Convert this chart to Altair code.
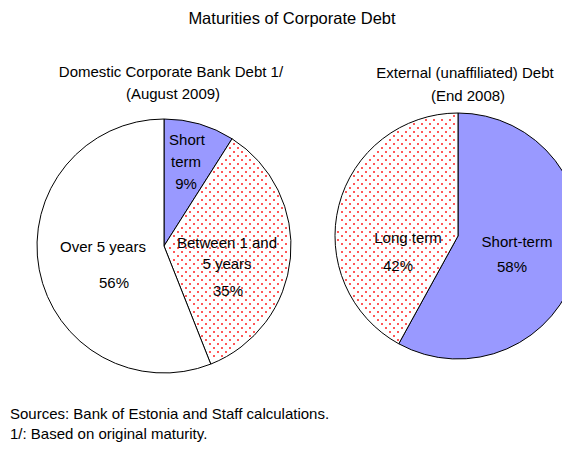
import altair as alt
import numpy as np
import pandas as pd

# ---------------- data ----------------
title = "Maturities of Corporate Debt"
left_title = ["Domestic Corporate Bank Debt 1/", "(August 2009)"]
right_title = ["External (unaffiliated) Debt", "(End 2008)"]

left_cats = ["Short term", "Between 1 and 5 years", "Over 5 years"]
left_vals = [9, 35, 56]
right_cats = ["Short-term", "Long term"]
right_vals = [58, 42]

notes = ["Sources: Bank of Estonia and Staff calculations.",
         "1/: Based on original maturity."]

# ---------------- layout ----------------
W, H = 554, 434
FONT = "Liberation Sans"
OFF = 8  # page margin
L_CX, L_CY, L_R = 164 - OFF, 246 - OFF, 127
R_CX, R_CY, R_R = 458 - OFF, 236 - OFF, 123
BLUE = "#9999FF"

all_cats = left_cats + right_cats
color_scale = alt.Scale(domain=all_cats,
                        range=[BLUE, "#FFFFFF", "#FFFFFF", BLUE, "#FFFFFF"])


def pie_df(cats, vals):
    return pd.DataFrame({"cat": cats, "value": vals, "order": list(range(len(cats)))})


def pie(cats, vals, cx, cy, r):
    return alt.Chart(pie_df(cats, vals)).mark_arc(
        radius=r, stroke="black", strokeWidth=1
    ).encode(
        theta=alt.Theta("value:Q", stack=True),
        order=alt.Order("order:Q"),
        color=alt.Color("cat:N", scale=color_scale, legend=None),
        x=alt.value(cx), y=alt.value(cy),
    )


def wedge_dots(vals, idx, cx, cy, r):
    """Dot texture filling wedge idx of a pie (stacked from 12 o'clock, clockwise)."""
    total = float(sum(vals))
    a0 = 2 * np.pi * sum(vals[:idx]) / total
    a1 = 2 * np.pi * sum(vals[:idx + 1]) / total
    pts = []
    for row, yy in enumerate(np.arange(0, H, 4.0)):
        start = 2.0 if row % 2 == 0 else 6.0
        for xx in np.arange(start, W, 8.0):
            dx, dy = xx - cx, yy - cy
            d = np.hypot(dx, dy)
            if d > r - 2.5 or d < 2:
                continue
            ang = np.arctan2(dx, -dy) % (2 * np.pi)
            m = 2.0 / d
            if a0 + m < ang < a1 - m:
                pts.append((xx, yy))
    return pd.DataFrame(pts, columns=["px", "py"])


dots = pd.concat([
    wedge_dots(left_vals, 1, L_CX, L_CY, L_R),
    wedge_dots(right_vals, 1, R_CX, R_CY, R_R),
])

dot_layer = alt.Chart(dots).mark_square(size=4, color="#FF2020", opacity=0.75).encode(
    x=alt.X("px:Q", scale=alt.Scale(domain=[0, W], range=[0, W]), axis=None),
    y=alt.Y("py:Q", scale=alt.Scale(domain=[0, H], range=[0, H]), axis=None),
)


def label(text, x, y, size=15, align="center"):
    return alt.Chart(pd.DataFrame({"t": [text]})).mark_text(
        font=FONT, fontSize=size, align=align, baseline="middle", color="black"
    ).encode(text="t:N", x=alt.value(x - OFF), y=alt.value(y - OFF))


layers = [
    pie(left_cats, left_vals, L_CX, L_CY, L_R),
    pie(right_cats, right_vals, R_CX, R_CY, R_R),
    dot_layer,
    label(title, 292, 19, size=16.5),
    label(left_title[0], 171, 72),
    label(left_title[1], 173, 94),
    label(right_title[0], 465, 73),
    label(right_title[1], 468, 96),
    # left pie labels
    label("Short", 187, 140),
    label("term", 186, 162),
    label(f"{left_vals[0]}%", 186, 184),
    label("Between 1 and", 227, 243),
    label("5 years", 227, 264),
    label(f"{left_vals[1]}%", 228, 291),
    label(left_cats[2], 103, 247),
    label(f"{left_vals[2]}%", 114, 283),
    # right pie labels
    label(right_cats[1], 408, 238),
    label(f"{right_vals[1]}%", 398, 266),
    label(right_cats[0], 517, 242),
    label(f"{right_vals[0]}%", 512, 267),
    # notes
    label(notes[0], 10, 414, align="left"),
    label(notes[1], 10, 434, align="left"),
]

chart = alt.layer(*layers).resolve_scale(theta="independent").properties(
    width=W, height=H, padding=0,
    autosize=alt.AutoSizeParams(type="none"),
).configure_view(stroke=None)

chart.save("out.html", embed_options={"renderer": "svg", "actions": False})
